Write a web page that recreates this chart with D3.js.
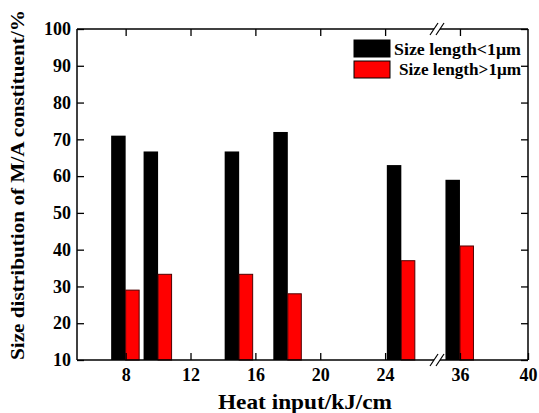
<!DOCTYPE html>
<html>
<head>
<meta charset="utf-8">
<script src="https://cdn.jsdelivr.net/npm/d3@7"></script>
<style>
  html, body { margin: 0; padding: 0; background: #fff; }
  svg { display: block; }
  text { font-family: "Liberation Serif", "Times New Roman", serif !important; font-weight: bold; fill: #000; }
</style>
</head>
<body>
<svg id="chart" width="539" height="413"></svg>
<script>
// Heat input (kJ/cm) of each welding condition
const heatInput = [8, 10, 15, 18, 25, 36];
// Share of M/A islands shorter than 1 μm (%)
const fineShare = [71, 66.7, 66.7, 72, 63, 59];
// Share of M/A islands longer than 1 μm (%)
const coarseShare = [29, 33.3, 33.3, 28, 37, 41];

const xTicksLeft = [8, 12, 16, 20, 24];
const xTicksRight = [36, 40];
const yTicks = [10, 20, 30, 40, 50, 60, 70, 80, 90, 100];
const seriesNames = ["Size length<1μm", "Size length>1μm"];
const seriesColors = ["#000000", "#ff0000"];

const svg = d3.select("#chart");
const serif = "'Liberation Serif','Times New Roman',serif";

const plot = { left: 77, right: 528, top: 29, bottom: 360 };
const breakX = 437;

// Broken x axis: two linear pieces joined at breakX
const xLeft = d3.scaleLinear().domain([5, 27.2]).range([plot.left, breakX]);
const xRight = d3.scaleLinear().domain([34.65, 40]).range([breakX, plot.right]);
const xPos = v => (v < 30 ? xLeft(v) : xRight(v));

const y = d3.scaleLinear().domain([10, 100]).range([plot.bottom, plot.top]);

const blackW = 14.5, redW = 13.5;

// Bars
const bars = svg.append("g");
bars.selectAll("rect.fine").data(heatInput).join("rect")
  .attr("class", "fine")
  .attr("x", d => xPos(d) - blackW)
  .attr("width", blackW)
  .attr("y", (d, i) => y(fineShare[i]))
  .attr("height", (d, i) => y(10) - y(fineShare[i]))
  .attr("fill", seriesColors[0]);

bars.selectAll("rect.coarse").data(heatInput).join("rect")
  .attr("class", "coarse")
  .attr("x", d => xPos(d))
  .attr("width", redW)
  .attr("y", (d, i) => y(coarseShare[i]))
  .attr("height", (d, i) => y(10) - y(coarseShare[i]))
  .attr("fill", seriesColors[1])
  .attr("stroke", "#500000")
  .attr("stroke-width", 1);

// Axes with inward ticks
const tickLen = 7;

function styleAxis(g, showText) {
  g.attr("font-family", serif).attr("font-size", 18);
  g.select(".domain").remove();
  g.selectAll(".tick line").attr("stroke", "#000").attr("stroke-width", 1.3);
  if (!showText) g.selectAll(".tick text").remove();
  else g.selectAll(".tick text")
        .style("font-family", serif).style("font-size", "18px").style("font-weight", "bold");
}

svg.append("g").attr("transform", `translate(0,${plot.bottom})`)
  .call(d3.axisBottom(xLeft).tickValues(xTicksLeft).tickFormat(d3.format("d"))
    .tickSizeInner(-tickLen).tickSizeOuter(0).tickPadding(8))
  .call(g => styleAxis(g, true));
svg.append("g").attr("transform", `translate(0,${plot.bottom})`)
  .call(d3.axisBottom(xRight).tickValues(xTicksRight).tickFormat(d3.format("d"))
    .tickSizeInner(-tickLen).tickSizeOuter(0).tickPadding(8))
  .call(g => styleAxis(g, true));

svg.append("g").attr("transform", `translate(0,${plot.top})`)
  .call(d3.axisTop(xLeft).tickValues(xTicksLeft).tickSizeInner(-tickLen).tickSizeOuter(0))
  .call(g => styleAxis(g, false));
svg.append("g").attr("transform", `translate(0,${plot.top})`)
  .call(d3.axisTop(xRight).tickValues(xTicksRight.slice(0, 1)).tickSizeInner(-tickLen).tickSizeOuter(0))
  .call(g => styleAxis(g, false));

svg.append("g").attr("transform", `translate(${plot.left},0)`)
  .call(d3.axisLeft(y).tickValues(yTicks).tickFormat(d3.format("d"))
    .tickSizeInner(-tickLen).tickSizeOuter(0).tickPadding(6))
  .call(g => styleAxis(g, true));
svg.append("g").attr("transform", `translate(${plot.right},0)`)
  .call(d3.axisRight(y).tickValues(yTicks).tickSizeInner(-tickLen).tickSizeOuter(0))
  .call(g => styleAxis(g, false));

// Frame
const frame = svg.append("g").attr("stroke", "#000").attr("stroke-width", 1.5).attr("fill", "none");
frame.append("line").attr("x1", plot.left).attr("x2", plot.left).attr("y1", plot.top).attr("y2", plot.bottom);
frame.append("line").attr("x1", plot.right).attr("x2", plot.right).attr("y1", plot.top).attr("y2", plot.bottom);
[plot.top, plot.bottom].forEach(yy => {
  frame.append("line").attr("x1", plot.left).attr("x2", breakX - 3).attr("y1", yy).attr("y2", yy);
  frame.append("line").attr("x1", breakX + 3).attr("x2", plot.right).attr("y1", yy).attr("y2", yy);
  // break marks "//"
  [-3, 3].forEach(off => {
    frame.append("line")
      .attr("x1", breakX + off - 4).attr("y1", yy + 6)
      .attr("x2", breakX + off + 4).attr("y2", yy - 6)
      .attr("stroke-width", 1.2);
  });
});

// Axis titles
svg.append("text")
  .attr("x", 305).attr("y", 409)
  .attr("text-anchor", "middle")
  .style("font-size", "22px")
  .attr("textLength", 174).attr("lengthAdjust", "spacingAndGlyphs")
  .text("Heat input/kJ/cm");

svg.append("text")
  .attr("transform", "translate(24,185) rotate(-90)")
  .attr("text-anchor", "middle")
  .style("font-size", "19px")
  .attr("textLength", 350).attr("lengthAdjust", "spacingAndGlyphs")
  .text("Size distribution of M/A constituent/%");

// Legend
const legend = svg.append("g");
const legendRows = [
  { y: 40, tx: 394, ty: 55, len: 127 },
  { y: 61, tx: 399, ty: 75, len: 122 }
];
legendRows.forEach((r, i) => {
  legend.append("rect")
    .attr("x", 354).attr("y", r.y).attr("width", 36).attr("height", 17)
    .attr("fill", seriesColors[i]).attr("stroke", "#000").attr("stroke-width", 1);
  legend.append("text")
    .attr("x", r.tx).attr("y", r.ty)
    .style("font-size", "17px")
    .attr("textLength", r.len).attr("lengthAdjust", "spacingAndGlyphs")
    .text(seriesNames[i]);
});
</script>
</body>
</html>
